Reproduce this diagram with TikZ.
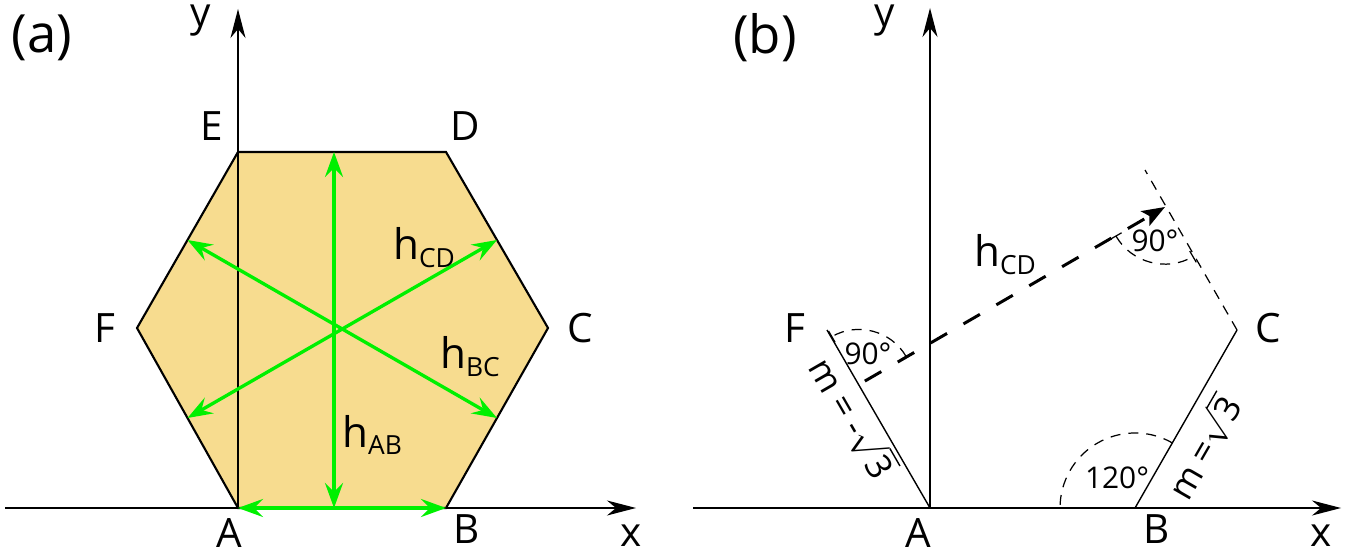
\documentclass[tikz,border=0pt]{standalone}
\usepackage{fontspec}
\setmainfont{Open Sans}
\usetikzlibrary{arrows.meta, calc}
\definecolor{hexfill}{HTML}{F7DC8F}
\definecolor{hgreen}{HTML}{00F000}
\newcommand{\hsub}[1]{h\raisebox{-0.35ex}{\fontsize{7.5}{9}\selectfont #1}}

\begin{document}
\begin{tikzpicture}[x=0.1mm, y=0.1mm,
    axis/.style={line width=0.45pt, -{Stealth[length=2.9mm, width=1.5mm, inset=0.9mm]}},
    hexline/.style={line width=0.6pt},
    sideline/.style={line width=0.4pt},
    harrow/.style={hgreen, line width=0.95pt,
      {Stealth[length=2.5mm, width=1.8mm, inset=0.9mm]}-{Stealth[length=2.5mm, width=1.8mm, inset=0.9mm]}},
    vlbl/.style={font=\fontsize{11.5}{13}\selectfont, inner sep=0pt},
    panel/.style={font=\fontsize{15}{17}\selectfont, inner sep=0pt},
    hlbl/.style={font=\fontsize{12}{14}\selectfont, inner sep=0pt},
    anglbl/.style={font=\fontsize{8.5}{10}\selectfont, inner sep=0pt},
    slopelbl/.style={font=\fontsize{10}{12}\selectfont, inner sep=0pt},
    thindash/.style={line width=0.35pt, dash pattern=on 1mm off 0.8mm},
    perpline/.style={line width=0.85pt, dash pattern=on 1.9mm off 1.9mm, dash phase=3.1mm},
    rightmark/.style={thindash, {Bar[width=1.3mm]}-{Bar[width=1.3mm]}}]
  \useasboundingbox (0,0) rectangle (1351,554);

  % (a) hexagon with the three heights
  \coordinate (A) at (238,46);
  \coordinate (B) at (446,46);
  \coordinate (C) at (548,226);
  \coordinate (D) at (446,402);
  \coordinate (E) at (238,402);
  \coordinate (F) at (137,226);
  \coordinate (xa0) at (5,46);
  \coordinate (xa1) at (636,46);
  \coordinate (ya1) at (238,545);
  \fill[hexfill] (A) -- (B) -- (C) -- (D) -- (E) -- (F) -- cycle;
  \draw[axis] (xa0) -- (xa1);
  \draw[axis] (A) -- (ya1);
  \draw[hexline] (A) -- (B) -- (C) -- (D) -- (E) -- (F) -- cycle;
  \coordinate (hab0) at (334,46);
  \coordinate (hab1) at (334,402);
  \draw[harrow] (hab0) -- (hab1);
  \draw[harrow] (A) -- (B);
  \draw[harrow] ($(E)!0.5!(F)$) -- ($(B)!0.5!(C)$);
  \draw[harrow] ($(F)!0.5!(A)$) -- ($(C)!0.5!(D)$);
  \node[panel] (pa) at (42,516) {(a)};
  \node[vlbl] (ya) at (201,533) {y};
  \node[vlbl] (xa) at (631,18) {x};
  \foreach \p/\x/\y in {A/229/21, B/467/25, C/580/226, D/465/428, E/212/428, F/105/226}
    \node[vlbl] (la\p) at (\x,\y) {\p};
  \node[hlbl] (lcd) at (424,306) {\hsub{CD}};
  \node[hlbl] (lbc) at (470,197) {\hsub{BC}};
  \node[hlbl] (lab) at (372,119) {\hsub{AB}};

  % (b) distance between CD and AF
  \coordinate (A2) at (930,46);
  \coordinate (B2) at (1135,46);
  \coordinate (C2) at (1237,224);
  \coordinate (F2) at (827,224);
  \coordinate (xb0) at (693,46);
  \coordinate (xb1) at (1341,46);
  \coordinate (yb1) at (930,546);
  \coordinate (P) at (1165,347);
  \coordinate (Q) at (858.8,169.4);
  \coordinate (cdtop) at (1145,384);
  \draw[axis] (xb0) -- (xb1);
  \draw[axis] (A2) -- (yb1);
  \draw[sideline] (A2) -- (F2);
  \draw[sideline] (B2) -- (C2);
  \draw[thindash] (C2) -- (cdtop);
  \draw[perpline, -{Stealth[length=2.3mm, width=1.7mm, inset=0.5mm]}] (Q) -- (P);
  \draw[rightmark] ([shift={(30:55)}]Q) arc[start angle=30, end angle=120, radius=55];
  \draw[rightmark] ([shift={(210:57)}]P) arc[start angle=210, end angle=300, radius=57];
  \draw[thindash] ([shift={(60:75)}]B2) arc[start angle=60, end angle=180, radius=75];
  \node[panel] (pb) at (765,516) {(b)};
  \node[vlbl] (yb) at (885,533) {y};
  \node[vlbl] (xb) at (1321,18) {x};
  \foreach \p/\x/\y in {A/918/21, B/1157/25, C/1268/226, F/795/226}
    \node[vlbl] (lb\p) at (\x,\y) {\p};
  \node[hlbl] (lcdb) at (1005,299) {\hsub{CD}};
  \node[anglbl] (aq) at (868,200) {90°};
  \node[anglbl] (ap) at (1155,313) {90°};
  \node[anglbl] (ab) at (1117,76) {120°};
  \node[slopelbl, rotate=-60] (maf) at (853,137) {m = -$\sqrt{\hbox{3}}$};
  \node[slopelbl, rotate=60] (mbc) at (1203,107) {m =$\sqrt{\hbox{3}}$};
\end{tikzpicture}
\end{document}
